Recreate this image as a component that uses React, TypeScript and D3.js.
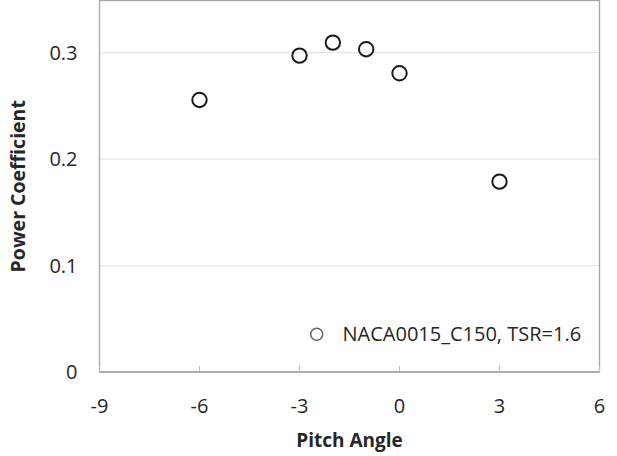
import React from "react";
import * as d3 from "d3";

const pitchAngles = [-6, -3, -2, -1, 0, 3];
const powerCoeff = [0.2556, 0.2973, 0.3095, 0.3033, 0.2807, 0.1789];
const xTicks = [-9, -6, -3, 0, 3, 6];
const yTicks = [0, 0.1, 0.2, 0.3];
const yTickLabels = ["0", "0.1", "0.2", "0.3"];
const seriesName = "NACA0015_C150, TSR=1.6";
const xTitle = "Pitch Angle";
const yTitle = "Power Coefficient";

const W = 617, H = 456;
const left = 99.5, right = 599.5, top = 0.5, bottom = 372;
const font = "'Open Sans', sans-serif";

export default function App() {
  const x = d3.scaleLinear().domain([-9, 6]).range([left, right]);
  const y = d3.scaleLinear().domain([0, 0.35]).range([bottom, bottom - 0.35 * 1064.3]);
  return (
    <svg width={W} height={H} style={{ position: "absolute", left: 0, top: 0, background: "#fff" }}>
      <rect x={0} y={0} width={W} height={H} fill="#fff" />
      {yTicks.filter(v => v > 0).map(v => (
        <line key={v} x1={left} x2={right} y1={y(v)} y2={y(v)} stroke="#e6e6e6" strokeWidth={1.2} />
      ))}
      <rect x={left} y={top} width={right - left} height={bottom - top} fill="none" stroke="#a6a6a6" strokeWidth={1.3} />
      <line x1={left} x2={right} y1={bottom} y2={bottom} stroke="#a6a6a6" strokeWidth={1.5} />
      {xTicks.map(v => (
        <line key={v} x1={x(v)} x2={x(v)} y1={bottom} y2={bottom - 6} stroke="#bdbdbd" strokeWidth={1} />
      ))}
      {xTicks.map(v => (
        <text key={v} x={x(v)} y={413} textAnchor="middle" fontFamily={font} fontSize={20} fill="#262626">{v}</text>
      ))}
      {yTicks.map((v, i) => (
        <text key={v} x={77.5} y={y(v) + 7.2} textAnchor="end" fontFamily={font} fontSize={20} fill="#262626">{yTickLabels[i]}</text>
      ))}
      <text x={(left + right) / 2} y={446.5} textAnchor="middle" fontFamily={font} fontWeight="bold" fontSize={19} fill="#262626">{xTitle}</text>
      <text transform={`translate(25,${(top + bottom) / 2}) rotate(-90)`} textAnchor="middle" fontFamily={font} fontWeight="bold" fontSize={19.5} fill="#262626">{yTitle}</text>
      {pitchAngles.map((a, i) => (
        <circle key={a} cx={x(a)} cy={y(powerCoeff[i])} r={7.2} fill="none" stroke="#1a1a1a" strokeWidth={2} />
      ))}
      <circle cx={316.7} cy={334.3} r={6} fill="none" stroke="#666" strokeWidth={1.5} />
      <text x={342.5} y={341} fontFamily={font} fontSize={20} fill="#262626">{seriesName}</text>
    </svg>
  );
}
